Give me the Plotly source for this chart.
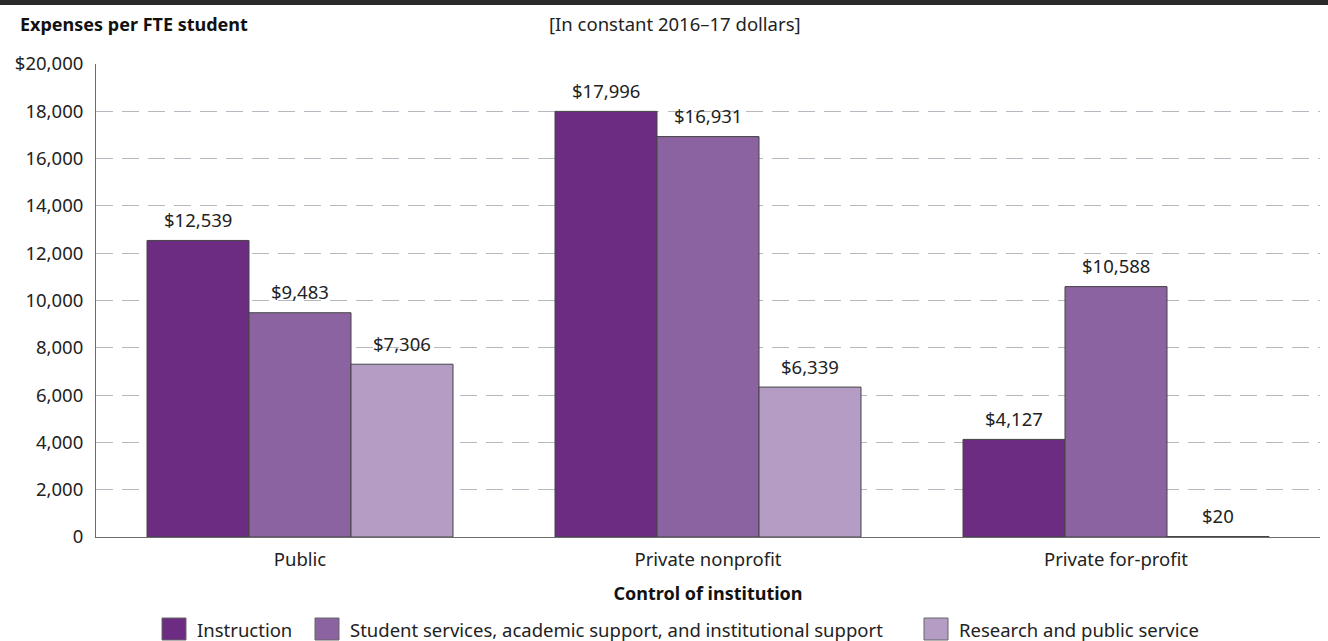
import plotly.graph_objects as go

# Categories and series
categories = ["Public", "Private nonprofit", "Private for-profit"]
series_names = [
    "Instruction",
    "Student services, academic support, and institutional support",
    "Research and public service",
]
instruction = [12539, 17996, 4127]
student_services = [9483, 16931, 10588]
research = [7306, 6339, 20]
colors = ["#6b2c82", "#8b63a0", "#b49cc5"]

tick_vals = [0, 2000, 4000, 6000, 8000, 10000, 12000, 14000, 16000, 18000, 20000]
tick_text = ["0", "2,000", "4,000", "6,000", "8,000", "10,000", "12,000",
             "14,000", "16,000", "18,000", "$20,000"]

FONT = "Noto Sans, Open Sans, sans-serif"
FS = 18.5
W, H = 1328, 641
L, R, T, B = 96, 8, 64, 104
pw = W - L - R
ph = H - T - B
BARGAP = 0.25


def px(x):
    # page pixel -> paper x
    return (x - L) / pw


def py(y):
    # page pixel -> paper y
    return (H - B - y) / ph


series = [instruction, student_services, research]
fig = go.Figure()
for name, vals, c in zip(series_names, series, colors):
    fig.add_trace(go.Bar(
        x=categories, y=vals, name=name,
        marker=dict(color=c, line=dict(color="#444", width=1)),
        cliponaxis=False,
        showlegend=False,
        hoverinfo="x+y+name",
    ))

# value labels: one per bar, shifted sideways by the bar slot width
bar_px = pw / len(categories) * (1 - BARGAP) / len(series)
annotations = []
for k, vals in enumerate(series):
    off = (k - (len(series) - 1) / 2) * bar_px
    for cat, v in zip(categories, vals):
        annotations.append(dict(
            x=cat, y=v, xref="x", yref="y", text="${:,}".format(v),
            xshift=off, yshift=21, yanchor="middle", showarrow=False,
            font=dict(size=FS, color="#222")))

annotations += [
    dict(text="<b>Expenses per FTE student</b>", x=px(18), xref="paper",
         xanchor="left", y=py(24), yref="paper", yanchor="middle",
         showarrow=False, font=dict(size=18, color="#111")),
    dict(text="[In constant 2016\u201317 dollars]", x=px(547), xref="paper",
         xanchor="left", y=py(24), yref="paper", yanchor="middle",
         showarrow=False, font=dict(size=FS, color="#222")),
]

# legend drawn by hand so the swatches can be the reference size
legend_x = [162, 315, 924]
shapes = [
    dict(type="line", xref="paper", yref="paper",
         x0=px(0), x1=px(W), y0=py(2.5), y1=py(2.5),
         line=dict(color="#2a2a2a", width=5)),
]
for name, c, lx in zip(series_names, colors, legend_x):
    shapes.append(dict(type="rect", xref="paper", yref="paper",
                       x0=px(lx), x1=px(lx + 24), y0=py(640), y1=py(618),
                       fillcolor=c, line=dict(color="#666", width=1)))
    annotations.append(dict(text=name, x=px(lx + 33), xref="paper", xanchor="left",
                            y=py(629), yref="paper", yanchor="middle",
                            showarrow=False, font=dict(size=FS, color="#222")))

fig.update_layout(
    width=W, height=H,
    margin=dict(l=L, r=R, t=T, b=B, autoexpand=False),
    barmode="group", bargap=BARGAP, bargroupgap=0,
    plot_bgcolor="white", paper_bgcolor="white",
    font=dict(family=FONT, size=FS, color="#222"),
    showlegend=False,
    xaxis=dict(showline=True, linecolor="#6b6b6b", linewidth=1,
               ticks="outside", ticklen=6, tickcolor="rgba(0,0,0,0)",
               tickfont=dict(size=FS),
               title=dict(text="<b>Control of institution</b>", standoff=17,
                          font=dict(size=18, color="#111"))),
    yaxis=dict(range=[0, 20000], tickvals=tick_vals, ticktext=tick_text,
               showline=True, linecolor="#6b6b6b", linewidth=1,
               showgrid=True, gridcolor="#b7b7bf", griddash="17px,9px", gridwidth=1,
               zeroline=False, ticks="outside", ticklen=8,
               tickcolor="rgba(0,0,0,0)", tickfont=dict(size=FS)),
    annotations=annotations,
    shapes=shapes,
)

fig.write_html("out.html", config={"displayModeBar": False},
               post_script="document.body.style.margin='0';")
